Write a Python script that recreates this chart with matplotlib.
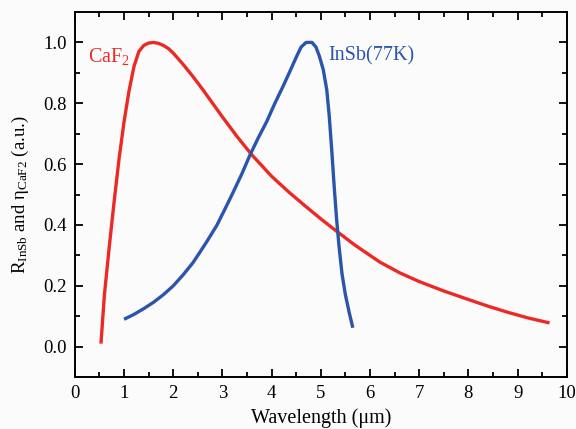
import matplotlib; matplotlib.use("Agg")
import matplotlib.pyplot as plt
from matplotlib.ticker import MultipleLocator

plt.rcParams["font.family"] = ["Liberation Serif", "DejaVu Serif"]
plt.rcParams["mathtext.fontset"] = "custom"
plt.rcParams["mathtext.rm"] = "Liberation Serif"
plt.rcParams["mathtext.it"] = "Liberation Serif:italic"

# CaF2 curve
caf2_x = [0.53, 0.6, 0.7, 0.8, 0.9, 1.0, 1.1, 1.2, 1.3, 1.4, 1.5, 1.6, 1.7, 1.8, 1.9, 2.0,
          2.2, 2.4, 2.6, 2.8, 3.0, 3.3, 3.6, 4.0, 4.35, 4.7, 5.0, 5.3, 5.7, 6.2, 6.6, 7.0,
          7.5, 8.0, 8.4, 8.8, 9.2, 9.65]
caf2_y = [0.01, 0.17, 0.33, 0.48, 0.62, 0.74, 0.84, 0.92, 0.97, 0.99, 0.998, 1.0, 0.997, 0.99, 0.98, 0.965,
          0.928, 0.888, 0.845, 0.8, 0.755, 0.69, 0.63, 0.56, 0.508, 0.46, 0.42, 0.382, 0.333, 0.278, 0.243, 0.214,
          0.183, 0.155, 0.133, 0.113, 0.095, 0.078]

# InSb(77K) curve
insb_x = [1.0, 1.2, 1.4, 1.6, 1.8, 2.0, 2.2, 2.4, 2.54, 2.7, 2.89, 3.05, 3.21, 3.4, 3.56, 3.73, 3.9, 4.06, 4.23, 4.38, 4.51, 4.6,
          4.7, 4.82, 4.9, 4.97, 5.05, 5.12, 5.17, 5.22, 5.27, 5.32, 5.37, 5.43, 5.5, 5.58, 5.65]
insb_y = [0.09, 0.106, 0.125, 0.146, 0.171, 0.2, 0.236, 0.276, 0.31, 0.35, 0.40, 0.452, 0.505, 0.57, 0.63, 0.687, 0.74, 0.798, 0.855, 0.908, 0.955, 0.985,
          1.0, 1.0, 0.985, 0.955, 0.91, 0.845, 0.76, 0.65, 0.53, 0.42, 0.33, 0.24, 0.17, 0.11, 0.062]

fig = plt.figure(figsize=(5.76, 4.29), dpi=100, facecolor="#fbfbfb")
ax = fig.add_axes([0.130, 0.121, 0.854, 0.851])
ax.set_facecolor("#fbfbfb")

ax.plot(caf2_x, caf2_y, color="#ec2a25", lw=2.4, solid_capstyle="butt", solid_joinstyle="round")
ax.plot(insb_x, insb_y, color="#2b55aa", lw=2.4, solid_capstyle="butt", solid_joinstyle="round")

ax.text(0.27, 0.955, "CaF$_2$", color="#ec2a25", fontsize=14.5, ha="left", va="center")
ax.text(5.15, 0.955, "InSb(77K)", color="#2b55aa", fontsize=14.5, ha="left", va="center")

ax.set_xlim(0, 10)
ax.set_ylim(-0.1, 1.1)
ax.xaxis.set_major_locator(MultipleLocator(1))
ax.xaxis.set_minor_locator(MultipleLocator(0.5))
ax.yaxis.set_minor_locator(MultipleLocator(0.1))
ax.set_yticks([0.0, 0.2, 0.4, 0.6, 0.8, 1.0])
ax.set_yticklabels(["0.0", "0.2", "0.4", "0.6", "0.8", "1.0"])
ax.tick_params(which="both", direction="in", top=True, right=True, width=1.3, labelsize=13.5)
ax.tick_params(which="major", length=6, pad=6)
ax.tick_params(which="minor", length=3.5)
for s in ax.spines.values():
    s.set_linewidth(1.4)

ax.set_xlabel("Wavelength (μm)", fontsize=14.5, labelpad=4)
ax.set_ylabel(r"R$_{\mathrm{InSb}}$ and η$_{\mathrm{CaF2}}$ (a.u.)", fontsize=13.5, labelpad=9)

fig.savefig("out.png", dpi=100, facecolor=fig.get_facecolor())
